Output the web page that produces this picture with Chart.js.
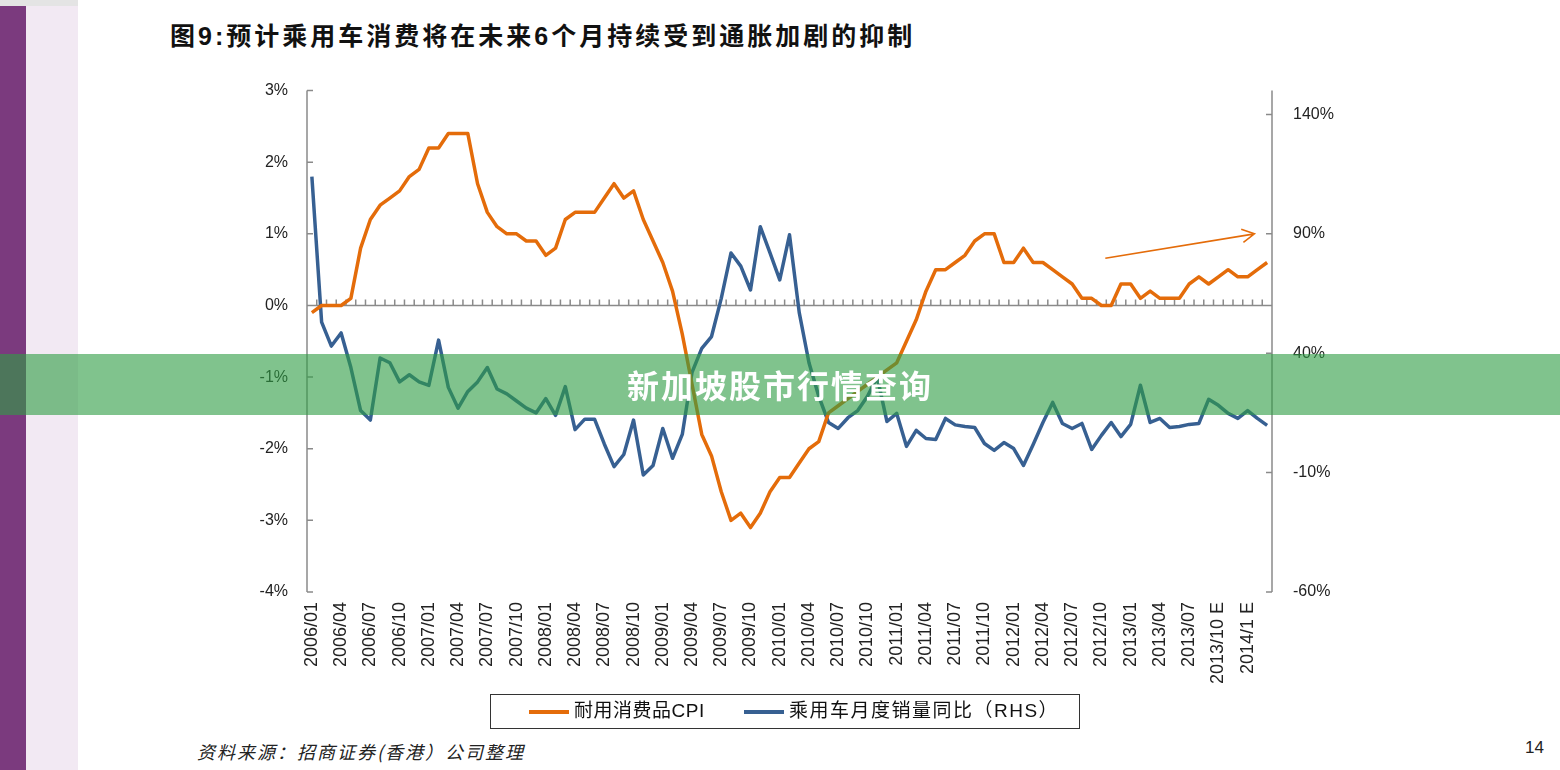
<!DOCTYPE html>
<html>
<head>
<meta charset="utf-8">
<script src="https://cdn.jsdelivr.net/npm/chart.js@4.4.0/dist/chart.umd.min.js"></script>
<style>
body { margin: 0; width: 1560px; height: 770px; background: #fff; position: relative; overflow: hidden;
       font-family: "Liberation Sans", Arial, "Noto Sans CJK SC", sans-serif; }
#side1 { position: absolute; left: 0; top: 6px; width: 26px; height: 764px; background: #7b3a7e; }
#side2 { position: absolute; left: 26px; top: 6px; width: 52px; height: 764px; background: #f2e9f3; }
#sideTop { position: absolute; left: 0; top: 0; width: 78px; height: 6px; background: #e4e4e4; }
#title { position: absolute; left: 170px; top: 16px; font: bold 25px "Liberation Sans", "Noto Sans CJK SC"; letter-spacing: 3px; color: #111; white-space: nowrap; }
#wrap { position: absolute; left: 200px; top: 60px; width: 1160px; height: 650px; }
#legend { position: absolute; left: 490px; top: 694px; width: 588px; height: 33px; border: 1px solid #333; }
#legend .sample { position: absolute; top: 15px; width: 40px; height: 4px; }
#legend .txt { position: absolute; top: 4px; font-size: 19px; line-height: 24px; color: #111; white-space: nowrap; }
#source { position: absolute; left: 197px; top: 738px; font: italic 18px "Noto Sans CJK SC"; letter-spacing: 2px; color: #222; }
#page { position: absolute; left: 1525px; top: 738px; font-size: 17px; color: #222; }
#banner { position: absolute; left: 0; top: 354px; width: 1560px; height: 61px; background: rgba(47,157,68,0.61);
          color: #fff; font: bold 32px "Noto Sans CJK SC"; letter-spacing: 2px; text-align: center; line-height: 61px; }
</style>
</head>
<body>
<div id="sideTop"></div>
<div id="side1"></div>
<div id="side2"></div>
<div id="title">图9:预计乘用车消费将在未来6个月持续受到通胀加剧的抑制</div>
<div id="wrap"><canvas id="chart" width="1160" height="650"></canvas></div>
<div id="legend"></div>
<div id="source">资料来源：招商证券(香港）公司整理</div>
<div id="page">14</div>
<div id="banner">新加坡股市行情查询</div>
<script>
// monthly categories 2006/01 .. 2014/03
const months = [];
for (let y = 2006; y <= 2014; y++) {
    for (let m = 1; m <= 12; m++) {
        if (y < 2014 || m <= 3) months.push(y + '/' + String(m).padStart(2, '0'));
    }
}

// labels shown every third month
const tickLabels = [
    '2006/01', '2006/04', '2006/07', '2006/10', '2007/01', '2007/04', '2007/07', '2007/10',
    '2008/01', '2008/04', '2008/07', '2008/10', '2009/01', '2009/04', '2009/07', '2009/10',
    '2010/01', '2010/04', '2010/07', '2010/10', '2011/01', '2011/04', '2011/07', '2011/10',
    '2012/01', '2012/04', '2012/07', '2012/10', '2013/01', '2013/04', '2013/07', '2013/10 E', '2014/1 E'
];

// 耐用消费品CPI (%), left axis
const cpi = [
    -0.1, 0, 0, 0, 0.1, 0.8, 1.2, 1.4, 1.5, 1.6, 1.8, 1.9,
    2.2, 2.2, 2.4, 2.4, 2.4, 1.7, 1.3, 1.1, 1.0, 1.0, 0.9, 0.9,
    0.7, 0.8, 1.2, 1.3, 1.3, 1.3, 1.5, 1.7, 1.5, 1.6, 1.2, 0.9,
    0.6, 0.2, -0.4, -1.1, -1.8, -2.1, -2.6, -3.0, -2.9, -3.1, -2.9, -2.6,
    -2.4, -2.4, -2.2, -2.0, -1.9, -1.5, -1.4, -1.3, -1.2, -1.1, -1.0, -0.9,
    -0.8, -0.5, -0.2, 0.2, 0.5, 0.5, 0.6, 0.7, 0.9, 1.0, 1.0, 0.6,
    0.6, 0.8, 0.6, 0.6, 0.5, 0.4, 0.3, 0.1, 0.1, 0.0, 0.0, 0.3,
    0.3, 0.1, 0.2, 0.1, 0.1, 0.1, 0.3, 0.4, 0.3, 0.4, 0.5, 0.4,
    0.4, 0.5, 0.6
];

// 乘用车月度销量同比 (%), right axis
const carSales = [
    114, 53, 43, 48.5, 34, 16, 12, 38, 36, 28, 31, 28,
    26.5, 45.5, 25.7, 17, 24, 28, 34, 25, 23, 20, 17, 15,
    21, 14, 26, 8, 12.4, 12.4, 2, -7.5, -2.4, 12, -11, -7,
    8.5, -4, 6, 32, 42, 47, 63, 82, 76.5, 66.5, 93, 82,
    70.7, 89.6, 57, 36, 22, 11, 8.5, 13, 16, 22, 30, 11.4,
    14.8, 1, 7.7, 4.3, 3.9, 12.7, 10, 9.3, 8.9, 2.2, -0.7, 2.6,
    0.1, -7, 1.8, 11, 19.4, 10.6, 8.5, 10.6, -0.3, 5.6, 11, 5.1,
    10.2, 26.6, 11, 12.7, 8.9, 9.3, 10.2, 10.6, 20.7, 18.2, 14.8, 12.7,
    16, 12.7, 9.8
];

const leftTicks = [-4, -3, -2, -1, 0, 1, 2, 3];
const rightTicks = [-60, -10, 40, 90, 140];

// trend arrow: [category index, left-axis %]
const arrowFrom = [81.4, 0.66];
const arrowTo = [96.7, 1.0];

const orange = '#e46c0a';
const blue = '#376092';
const axisGray = '#8a8a8a';

const axisDeco = {
    id: 'axisDeco',
    beforeDatasetsDraw(chart) {
        const { ctx, chartArea: a, scales: { x, yL, yR } } = chart;
        ctx.save();
        ctx.strokeStyle = axisGray;
        ctx.lineWidth = 1.5;
        ctx.beginPath();
        ctx.moveTo(a.left, a.top); ctx.lineTo(a.left, a.bottom);
        ctx.moveTo(a.right, a.top); ctx.lineTo(a.right, a.bottom);
        yL.ticks.forEach(t => {
            const y = yL.getPixelForValue(t.value);
            ctx.moveTo(a.left, y); ctx.lineTo(a.left + 6, y);
        });
        yR.ticks.forEach(t => {
            const y = yR.getPixelForValue(t.value);
            ctx.moveTo(a.right, y); ctx.lineTo(a.right - 6, y);
        });
        // category axis crossing at 0 with monthly tick marks
        const y0 = yL.getPixelForValue(0);
        ctx.moveTo(a.left, y0); ctx.lineTo(a.right, y0);
        const n = chart.data.labels.length;
        const w = (a.right - a.left) / n;
        for (let k = 0; k <= n; k++) {
            const xx = a.left + k * w;
            ctx.moveTo(xx, y0); ctx.lineTo(xx, y0 - 6);
        }
        ctx.stroke();
        ctx.restore();
    },
    afterDatasetsDraw(chart) {
        const { ctx, scales: { x, yL } } = chart;
        const x1 = x.getPixelForValue(arrowFrom[0]), y1 = yL.getPixelForValue(arrowFrom[1]);
        const x2 = x.getPixelForValue(arrowTo[0]), y2 = yL.getPixelForValue(arrowTo[1]);
        const ang = Math.atan2(y2 - y1, x2 - x1);
        ctx.save();
        ctx.strokeStyle = orange;
        ctx.lineWidth = 1.6;
        ctx.beginPath();
        ctx.moveTo(x1, y1); ctx.lineTo(x2, y2);
        ctx.moveTo(x2 - 14 * Math.cos(ang - 0.5), y2 - 14 * Math.sin(ang - 0.5));
        ctx.lineTo(x2, y2);
        ctx.lineTo(x2 - 14 * Math.cos(ang + 0.5), y2 - 14 * Math.sin(ang + 0.5));
        ctx.stroke();
        ctx.restore();
    }
};

const chart = new Chart(document.getElementById('chart'), {
    type: 'line',
    data: {
        labels: months,
        datasets: [
            { label: '耐用消费品CPI', data: cpi, yAxisID: 'yL', borderColor: orange, backgroundColor: orange,
              borderWidth: 3.5, pointRadius: 0, tension: 0, borderJoinStyle: 'round' },
            { label: '乘用车月度销量同比（RHS）', data: carSales, yAxisID: 'yR', borderColor: blue, backgroundColor: blue,
              borderWidth: 3.5, pointRadius: 0, tension: 0, borderJoinStyle: 'round' }
        ]
    },
    options: {
        responsive: false,
        animation: false,
        devicePixelRatio: 1,
        layout: { padding: { top: 10, left: 0, right: 0, bottom: 8 } },
        plugins: { legend: { display: false }, tooltip: { enabled: false } },
        scales: {
            x: {
                offset: true,
                grid: { display: false, drawTicks: false },
                border: { display: false },
                afterFit(scale) { scale.height = 110; },
                ticks: {
                    autoSkip: false, maxRotation: 90, minRotation: 90, padding: 10,
                    color: '#222', font: { size: 18, family: '"Liberation Sans", Arial' },
                    callback: (v, i) => (i % 3 === 0 ? tickLabels[i / 3] : '')
                }
            },
            yL: {
                position: 'left', min: -4, max: 3,
                grid: { display: false, drawTicks: false },
                border: { display: false },
                afterFit(scale) { scale.width = 107; },
                afterBuildTicks(scale) { scale.ticks = leftTicks.map(v => ({ value: v })); },
                ticks: { padding: 19, color: '#222', font: { size: 16, family: '"Liberation Sans", Arial' },
                         callback: v => v + '%' }
            },
            yR: {
                position: 'right', min: -60, max: 150,
                grid: { display: false, drawTicks: false },
                border: { display: false },
                afterFit(scale) { scale.width = 88; },
                afterBuildTicks(scale) { scale.ticks = rightTicks.map(v => ({ value: v })); },
                ticks: { padding: 21, color: '#222', font: { size: 16, family: '"Liberation Sans", Arial' },
                         callback: v => v + '%' }
            }
        }
    },
    plugins: [axisDeco]
});

// boxed legend under the chart, built from the datasets
const legend = document.getElementById('legend');
const sampleLeft = [38, 253];
const textLeft = [83, 298];
const textSpacing = ['0.5px', '1.5px'];
chart.data.datasets.forEach((ds, i) => {
    const s = document.createElement('div');
    s.className = 'sample';
    s.style.left = sampleLeft[i] + 'px';
    s.style.background = ds.borderColor;
    legend.appendChild(s);
    const t = document.createElement('div');
    t.className = 'txt';
    t.style.left = textLeft[i] + 'px';
    t.style.letterSpacing = textSpacing[i];
    t.textContent = ds.label;
    legend.appendChild(t);
});
</script>
</body>
</html>
